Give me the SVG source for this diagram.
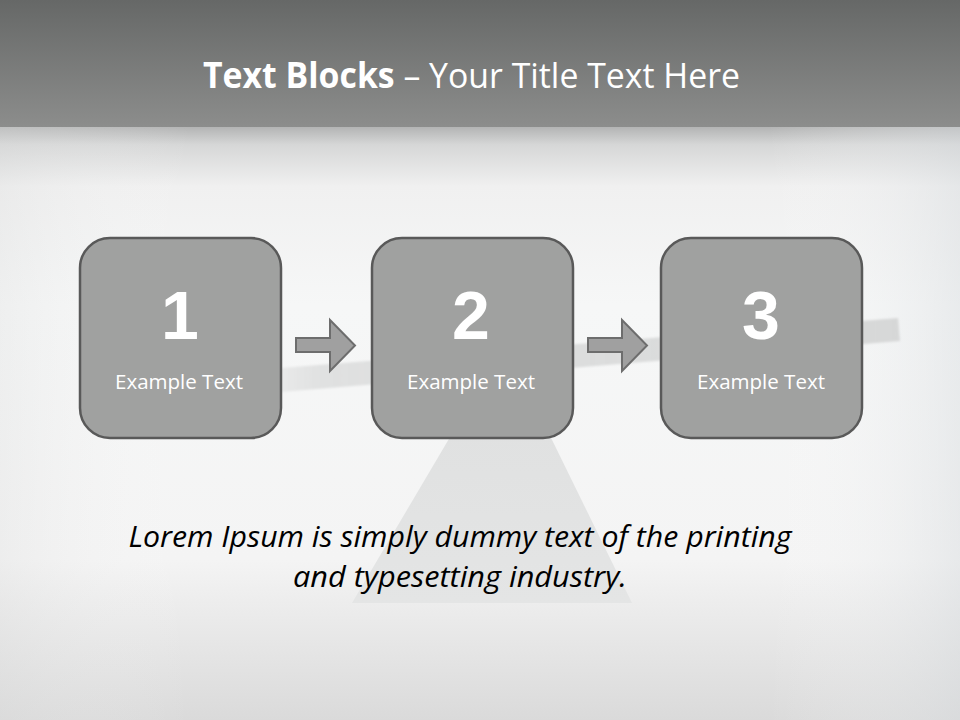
<svg xmlns="http://www.w3.org/2000/svg" width="960" height="720" viewBox="0 0 960 720">
  <defs>
    <linearGradient id="hdr" x1="0" y1="0" x2="0" y2="1">
      <stop offset="0" stop-color="#666867"/>
      <stop offset="1" stop-color="#8c8d8c"/>
    </linearGradient>
    <linearGradient id="bg" x1="0" y1="0" x2="0" y2="1">
      <stop offset="0" stop-color="#b3b4b4"/>
      <stop offset="0.03" stop-color="#d6d7d7"/>
      <stop offset="0.1" stop-color="#f0f0f0"/>
      <stop offset="0.3" stop-color="#f6f7f7"/>
      <stop offset="0.73" stop-color="#f4f4f4"/>
      <stop offset="0.8" stop-color="#ededed"/>
      <stop offset="1" stop-color="#dadada"/>
    </linearGradient>
    <linearGradient id="side" x1="0" y1="0" x2="1" y2="0">
      <stop offset="0" stop-color="#dcdddd" stop-opacity="0.3"/>
      <stop offset="0.2" stop-color="#ffffff" stop-opacity="0"/>
      <stop offset="0.8" stop-color="#ffffff" stop-opacity="0"/>
      <stop offset="1" stop-color="#d8dcdf" stop-opacity="0.45"/>
    </linearGradient>
    <linearGradient id="plank" x1="220" y1="0" x2="900" y2="0" gradientUnits="userSpaceOnUse">
      <stop offset="0" stop-color="#dcdddd" stop-opacity="0"/>
      <stop offset="0.15" stop-color="#dcdddd" stop-opacity="0.85"/>
      <stop offset="1" stop-color="#d7d8d8" stop-opacity="1"/>
    </linearGradient>
    <linearGradient id="tri" x1="0" y1="0" x2="0" y2="1">
      <stop offset="0" stop-color="#dedfdf"/>
      <stop offset="1" stop-color="#e4e5e5"/>
    </linearGradient>
    <filter id="soft" x="-5%" y="-50%" width="110%" height="200%">
      <feGaussianBlur stdDeviation="1.2"/>
    </filter>
    <style>
      .box { fill: #a0a1a0; stroke: #595959; stroke-width: 2.5; }
      .num { font-family: "Liberation Sans", Arial, sans-serif; font-weight: bold; font-size: 68px; fill: #ffffff; text-anchor: middle; }
      .lbl { font-family: "Open Sans", "Liberation Sans", sans-serif; font-size: 20px; fill: #ffffff; text-anchor: middle; }
      .arrow { fill: #a0a0a0; stroke: #6d6d6d; stroke-width: 2; stroke-linejoin: miter; }
      .title { font-family: "Open Sans", "Liberation Sans", sans-serif; font-size: 35px; fill: #ffffff; }
      .body { font-family: "Open Sans", "Liberation Sans", sans-serif; font-style: italic; font-size: 30px; fill: #000000; text-anchor: middle; }
    </style>
  </defs>

  <!-- background -->
  <rect x="0" y="127" width="960" height="593" fill="url(#bg)"/>
  <rect x="0" y="127" width="960" height="593" fill="url(#side)"/>
  <rect x="0" y="0" width="960" height="127" fill="url(#hdr)"/>

  <!-- seesaw scene -->
  <polygon points="220,373 898,318 900,341 220,397" fill="url(#plank)" filter="url(#soft)"/>
  <polygon points="352,603 632,603 505,344" fill="url(#tri)"/>

  <!-- title -->
  <text class="title" x="471.5" y="88" text-anchor="middle" textLength="537" lengthAdjust="spacingAndGlyphs"><tspan font-weight="bold">Text Blocks</tspan> – Your Title Text Here</text>

  <!-- connectors -->
  <g id="connectors">
    <polygon class="arrow" points="296,338 330,338 330,320 355,345.5 330,371 330,352 296,352"/>
    <polygon class="arrow" points="588,338 622,338 622,320 647,345.5 622,371 622,352 588,352"/>
  </g>

  <!-- nodes -->
  <g id="node1">
    <rect class="box" x="80" y="238" width="201" height="200" rx="30" ry="30"/>
    <text class="num" x="180" y="339">1</text>
    <text class="lbl" x="179" y="389" textLength="128" lengthAdjust="spacingAndGlyphs">Example Text</text>
  </g>
  <g id="node2">
    <rect class="box" x="372" y="238" width="201" height="200" rx="30" ry="30"/>
    <text class="num" x="471" y="339">2</text>
    <text class="lbl" x="471" y="389" textLength="128" lengthAdjust="spacingAndGlyphs">Example Text</text>
  </g>
  <g id="node3">
    <rect class="box" x="661" y="238" width="201" height="200" rx="30" ry="30"/>
    <text class="num" x="761" y="339">3</text>
    <text class="lbl" x="761" y="389" textLength="128" lengthAdjust="spacingAndGlyphs">Example Text</text>
  </g>

  <!-- body text -->
  <g id="body">
    <text class="body" x="460" y="547" textLength="663" lengthAdjust="spacingAndGlyphs">Lorem Ipsum is simply dummy text of the printing</text>
    <text class="body" x="460" y="587" textLength="334" lengthAdjust="spacingAndGlyphs">and typesetting industry.</text>
  </g>
</svg>
